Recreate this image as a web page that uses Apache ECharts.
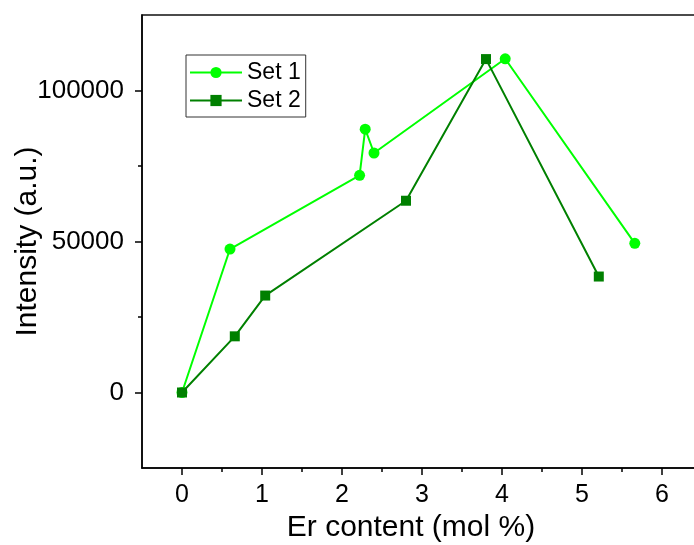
<!DOCTYPE html>
<html>
<head>
<meta charset="utf-8">
<script src="https://cdn.jsdelivr.net/npm/echarts@6/dist/echarts.min.js"></script>
<style>
  html, body { margin: 0; padding: 0; background: #fff; }
  #chart { width: 694px; height: 545px; }
</style>
</head>
<body>
<div id="chart"></div>
<script>
// data
const set1X = [0, 0.6, 2.22, 2.29, 2.4, 4.04, 5.66];
const set1Y = [0, 47500, 71900, 87200, 79300, 110500, 49400];
const set2X = [0, 0.66, 1.04, 2.8, 3.8, 5.21];
const set2Y = [0, 18600, 32100, 63500, 110400, 38400];

const xMajor = [0, 1, 2, 3, 4, 5, 6];
const xMinor = [0.5, 1.5, 2.5, 3.5, 4.5, 5.5];
const yMajor = [0, 50000, 100000];
const yMinor = [25000, 75000];

const font = 'Liberation Sans, Arial, sans-serif';
const pair = (xs, ys) => xs.map((x, i) => [x, ys[i]]);

const chart = echarts.init(document.getElementById('chart'));

const baseX = {
  type: 'value', min: -0.5, max: 6.5, interval: 0.5, position: 'bottom',
  splitLine: { show: false }
};
const baseY = {
  type: 'value', min: -25000, max: 125000, interval: 25000, position: 'left',
  splitLine: { show: false }
};

chart.setOption({
  animation: false,
  grid: {
    left: 142, top: 15, right: -8, bottom: 77,
    outerBoundsMode: 'none', containLabel: false,
    show: true, borderColor: '#111', borderWidth: 1.5
  },
  legend: {
    orient: 'vertical', left: 186, top: 55,
    padding: [6, 5, 5, 3],
    borderColor: '#333', borderWidth: 1,
    itemWidth: 52, itemHeight: 14, itemGap: 5,
    textStyle: { fontFamily: font, fontSize: 23, color: '#000' },
    data: ['Set 1', 'Set 2']
  },
  xAxis: [
    Object.assign({}, baseX, {
      name: 'Er content (mol %)', nameLocation: 'middle', nameGap: 45, nameMoveOverlap: false,
      nameTextStyle: { fontFamily: font, fontSize: 30, color: '#000', padding: [0, 22, 0, 0] },
      axisLine: { onZero: false, lineStyle: { color: '#000', width: 1.5 } },
      axisTick: { inside: false, length: 7, customValues: xMajor, lineStyle: { color: '#000', width: 1.5 } },
      axisLabel: { customValues: xMajor, margin: 15, fontFamily: font, fontSize: 25, color: '#000',
        formatter: v => String(v) }
    }),
    Object.assign({}, baseX, {
      axisLine: { show: false, onZero: false },
      axisTick: { inside: false, length: 4, customValues: xMinor, lineStyle: { color: '#000', width: 1.5 } },
      axisLabel: { show: false }
    })
  ],
  yAxis: [
    Object.assign({}, baseY, {
      name: 'Intensity (a.u.)', nameLocation: 'middle', nameGap: 99, nameMoveOverlap: false,
      nameTextStyle: { fontFamily: font, fontSize: 30, color: '#000' },
      axisLine: { onZero: false, lineStyle: { color: '#000', width: 1.5 } },
      axisTick: { inside: false, length: 7, customValues: yMajor, lineStyle: { color: '#000', width: 1.5 } },
      axisLabel: { customValues: yMajor, margin: 18, fontFamily: font, fontSize: 26, color: '#000',
        formatter: v => String(v) }
    }),
    Object.assign({}, baseY, {
      axisLine: { show: false, onZero: false },
      axisTick: { inside: false, length: 4, customValues: yMinor, lineStyle: { color: '#000', width: 1.5 } },
      axisLabel: { show: false }
    })
  ],
  series: [
    {
      name: 'Set 1', type: 'line', data: pair(set1X, set1Y),
      symbol: 'circle', symbolSize: 11,
      lineStyle: { color: '#00ff00', width: 2 },
      itemStyle: { color: '#00ff00' }
    },
    {
      name: 'Set 2', type: 'line', data: pair(set2X, set2Y),
      symbol: 'rect', symbolSize: 10,
      lineStyle: { color: '#008000', width: 2 },
      itemStyle: { color: '#008000' }
    }
  ]
});
</script>
</body>
</html>
